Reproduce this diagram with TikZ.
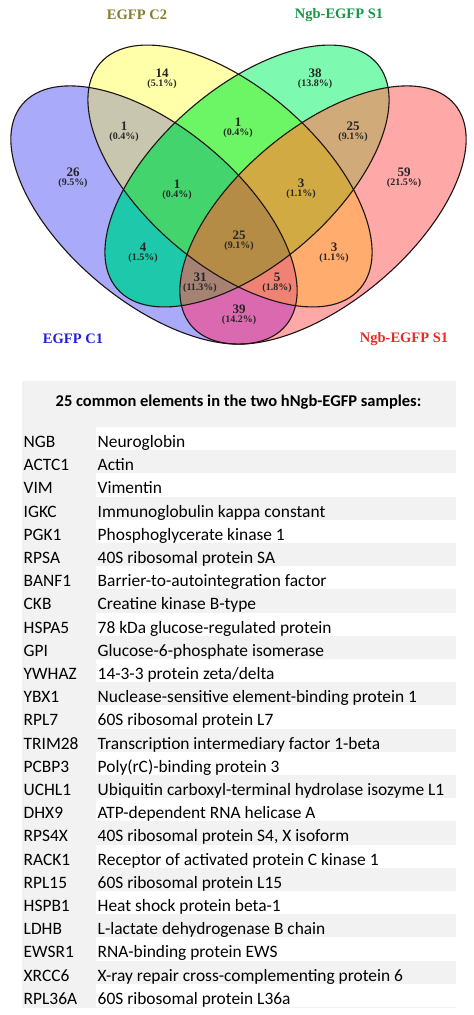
\documentclass[tikz,border=0pt]{standalone}
\usepackage{fontspec}
\setmainfont{Carlito}
\newfontfamily\vennfont{Liberation Serif}
\definecolor{cB}{RGB}{170,170,250}
\definecolor{cY}{RGB}{255,255,170}
\definecolor{cG}{RGB}{125,250,175}
\definecolor{cP}{RGB}{255,168,168}
\definecolor{cBY}{RGB}{200,198,175}
\definecolor{cBG}{RGB}{30,200,170}
\definecolor{cBP}{RGB}{218,105,175}
\definecolor{cYG}{RGB}{108,245,100}
\definecolor{cYP}{RGB}{255,172,110}
\definecolor{cGP}{RGB}{208,170,120}
\definecolor{cBYG}{RGB}{68,212,110}
\definecolor{cBYP}{RGB}{240,130,115}
\definecolor{cBGP}{RGB}{165,130,115}
\definecolor{cYGP}{RGB}{210,170,68}
\definecolor{cBYGP}{RGB}{180,140,70}
\definecolor{lblC2}{RGB}{135,125,45}
\definecolor{lblS1a}{RGB}{20,150,70}
\definecolor{lblC1}{RGB}{30,30,225}
\definecolor{lblS1b}{RGB}{235,40,40}
\definecolor{tabgray}{RGB}{242,242,242}
\definecolor{edge}{RGB}{30,20,20}
\tikzset{
  eB/.style={rotate around={-40:(154,-215)}},
  eP/.style={rotate around={40:(323,-215)}},
  eY/.style={rotate around={-41:(230,-176)}},
  eG/.style={rotate around={41:(247,-176)}},
  num/.style={font=\vennfont\bfseries\fontsize{13}{13}\selectfont, inner sep=0, text=black!85},
  pct/.style={font=\vennfont\bfseries\fontsize{10}{10}\selectfont, inner sep=0, text=black!85},
  setname/.style={font=\vennfont\bfseries\fontsize{14.5}{14.5}\selectfont, inner sep=0},
  outline/.style={draw=edge, line width=1.1pt},
  cell/.style={anchor=base west, inner sep=0, font=\fontsize{17.4}{19}\selectfont},
}
\newcommand\vnB[1]{\path[#1,eB] (154,-215) ellipse [x radius=172, y radius=87];}
\newcommand\vnP[1]{\path[#1,eP] (323,-215) ellipse [x radius=172, y radius=87];}
\newcommand\vnY[1]{\path[#1,eY] (230,-176) ellipse [x radius=172, y radius=88];}
\newcommand\vnG[1]{\path[#1,eG] (247,-176) ellipse [x radius=172, y radius=88];}
\begin{document}
\begin{tikzpicture}[x=1pt,y=1pt]
\useasboundingbox (0,0) rectangle (474,-1015);
% single sets
\vnB{fill=cB}\vnY{fill=cY}\vnG{fill=cG}\vnP{fill=cP}
% pairs
\begin{scope}\vnB{clip}\vnY{fill=cBY}\end{scope}
\begin{scope}\vnB{clip}\vnG{fill=cBG}\end{scope}
\begin{scope}\vnB{clip}\vnP{fill=cBP}\end{scope}
\begin{scope}\vnY{clip}\vnG{fill=cYG}\end{scope}
\begin{scope}\vnY{clip}\vnP{fill=cYP}\end{scope}
\begin{scope}\vnG{clip}\vnP{fill=cGP}\end{scope}
% triples
\begin{scope}\vnB{clip}\vnY{clip}\vnG{fill=cBYG}\end{scope}
\begin{scope}\vnB{clip}\vnY{clip}\vnP{fill=cBYP}\end{scope}
\begin{scope}\vnB{clip}\vnG{clip}\vnP{fill=cBGP}\end{scope}
\begin{scope}\vnY{clip}\vnG{clip}\vnP{fill=cYGP}\end{scope}
% all four
\begin{scope}\vnB{clip}\vnY{clip}\vnG{clip}\vnP{fill=cBYGP}\end{scope}
% outlines
\vnB{outline}\vnY{outline}\vnG{outline}\vnP{outline}
% set names
\node[setname, text=lblC2] (sC2) at (137,-15) {EGFP C2};
\node[setname, text=lblS1a] (sS1a) at (339,-15) {Ngb-EGFP S1};
\node[setname, text=lblC1] (sC1) at (73,-339) {EGFP C1};
\node[setname, text=lblS1b] (sS1b) at (404,-339) {Ngb-EGFP S1};
% counts
\foreach \nm/\x/\y/\n/\p in {
  a/162/73/14/5.1, b/315/73/38/13.8, c/124/126/1/0.4, d/238/122/1/0.4,
  e/353/126/25/9.1, f/73/172/26/9.5, g/404/172/59/21.5, h/177/184/1/0.4,
  i/301/183/3/1.1, j/143/247/4/1.5, k/239/235/25/9.1, l/334/247/3/1.1,
  m/200/277/31/11.3, n/277/277/5/1.8, o/239/309/39/14.2}{
  \node[num] (n\nm) at (\x,-\y) {\n};
  \node[pct] (p\nm) at (\x,-\y-11.5) {(\p\%)};
}
% table
\fill[tabgray] (22,-381) rectangle (456,-1008);
\foreach \i in {1,3,...,25}{
  \fill[white] (96,{-427-(\i-1)*23.2}) rectangle (456,{-427-\i*23.2});
}
\node[font=\bfseries\fontsize{16.5}{18}\selectfont, inner sep=0] (head) at (238.5,-402) {25 common elements in the two hNgb-EGFP samples:};
\foreach \a/\b [count=\i] in {
  NGB/Neuroglobin,
  ACTC1/Actin,
  VIM/Vimentin,
  IGKC/Immunoglobulin kappa constant,
  PGK1/Phosphoglycerate kinase 1,
  RPSA/40S ribosomal protein SA,
  BANF1/Barrier-to-autointegration factor,
  CKB/Creatine kinase B-type,
  HSPA5/78 kDa glucose-regulated protein,
  GPI/Glucose-6-phosphate isomerase,
  YWHAZ/{14-3-3 protein zeta/delta},
  YBX1/Nuclease-sensitive element-binding protein 1,
  RPL7/60S ribosomal protein L7,
  TRIM28/Transcription intermediary factor 1-beta,
  PCBP3/Poly(rC)-binding protein 3,
  UCHL1/Ubiquitin carboxyl-terminal hydrolase isozyme L1,
  DHX9/ATP-dependent RNA helicase A,
  RPS4X/{40S ribosomal protein S4, X isoform},
  RACK1/Receptor of activated protein C kinase 1,
  RPL15/60S ribosomal protein L15,
  HSPB1/Heat shock protein beta-1,
  LDHB/L-lactate dehydrogenase B chain,
  EWSR1/RNA-binding protein EWS,
  XRCC6/X-ray repair cross-complementing protein 6,
  RPL36A/60S ribosomal protein L36a}{
  \node[cell] (g\i) at (23.5,{-447.5-(\i-1)*23.2}) {\a};
  \node[cell] (d\i) at (97.5,{-447.5-(\i-1)*23.2}) {\b};
}
\end{tikzpicture}
\end{document}
